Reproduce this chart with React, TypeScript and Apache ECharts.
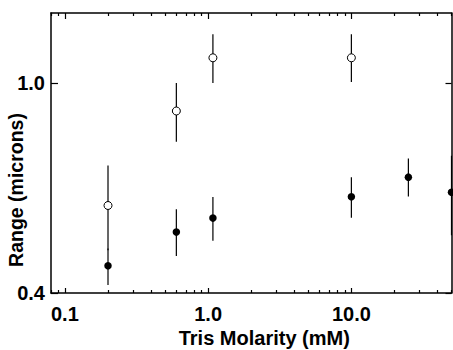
import React, { useEffect, useRef } from "react";
import * as echarts from "echarts";

// Tris molarity (mM) and range (microns)
const openX = [0.2, 0.6, 1.08, 10];
const openY = [0.65, 0.92, 1.072, 1.072];
const openLow = [0.522, 0.832, 1.0, 1.003];
const openHigh = [0.764, 1.0, 1.139, 1.139];

const filledX = [0.2, 0.6, 1.08, 10, 25, 50];
const filledY = [0.478, 0.574, 0.614, 0.675, 0.731, 0.688];
const filledLow = [0.423, 0.506, 0.549, 0.615, 0.676, 0.565];
const filledHigh = [0.527, 0.639, 0.674, 0.731, 0.784, 0.792];

const xMajorTicks = [0.1, 1, 10];
const xMinorTicks = [
  0.08, 0.09, 0.2, 0.3, 0.4, 0.5, 0.6, 0.7, 0.8, 0.9,
  2, 3, 4, 5, 6, 7, 8, 9, 20, 30, 40, 50,
];
const yTicks = [0.4, 1.0];

const FONT = "'Liberation Sans', Arial, Helvetica, sans-serif";

export default function App() {
  const ref = useRef<HTMLDivElement>(null);
  useEffect(() => {
    if (!ref.current) return;
    const chart = echarts.init(ref.current, null, { renderer: "svg" });
    const gridBox = { left: 51, right: 1.5, top: 13, bottom: 57, outerBoundsMode: "none" } as any;
    const axisLine = { show: true, lineStyle: { color: "#000", width: 1.5 } };
    const xBase = { type: "log", logBase: 10, min: 0.08, max: 50, splitLine: { show: false } } as any;
    const labelStyle = { color: "#000", fontFamily: FONT, fontWeight: "bold", fontSize: 20 };
    const makeErr = (xs: number[], lo: number[], hi: number[]) =>
      xs.map((x, i) => [x, lo[i], hi[i]]);
    const renderErr = (params: any, api: any) => {
      const x = api.value(0);
      const p1 = api.coord([x, api.value(1)]);
      const p2 = api.coord([x, api.value(2)]);
      return {
        type: "line",
        shape: { x1: p1[0], y1: p1[1], x2: p2[0], y2: p2[1] },
        style: { stroke: "#000", lineWidth: 1.2 },
      };
    };
    chart.setOption({
      animation: false,
      backgroundColor: "#fff",
      grid: [gridBox, { ...gridBox }],
      xAxis: [
        {
          ...xBase,
          gridIndex: 0,
          position: "bottom",
          axisLine,
          axisTick: { show: true, inside: true, length: 5, customValues: xMajorTicks, lineStyle: { color: "#000", width: 1.2 } },
          axisLabel: {
            ...labelStyle,
            margin: 11,
            customValues: xMajorTicks,
            formatter: (v: number) => Number(v).toFixed(1),
          },
          name: "Tris Molarity (mM)",
          nameLocation: "middle",
          nameGap: 35,
          nameMoveOverlap: false,
          nameTextStyle: { ...labelStyle, fontSize: 20, padding: [0, 0, 0, 26] },
        },
        {
          ...xBase,
          gridIndex: 0,
          position: "top",
          axisLine,
          axisTick: { show: true, inside: true, length: 6, customValues: xMajorTicks, lineStyle: { color: "#000", width: 1.2 } },
          axisLabel: { show: false },
        },
        {
          ...xBase,
          gridIndex: 1,
          position: "bottom",
          axisLine: { show: false },
          axisTick: { show: true, inside: true, length: 3, customValues: xMinorTicks, lineStyle: { color: "#000", width: 1.2 } },
          axisLabel: { show: false },
        },
        {
          ...xBase,
          gridIndex: 1,
          position: "top",
          axisLine: { show: false },
          axisTick: { show: true, inside: true, length: 3, customValues: xMinorTicks, lineStyle: { color: "#000", width: 1.2 } },
          axisLabel: { show: false },
        },
      ],
      yAxis: [
        {
          type: "value",
          gridIndex: 0,
          position: "left",
          min: 0.4,
          max: 1.2,
          splitLine: { show: false },
          axisLine,
          axisTick: { show: true, inside: true, length: 7, customValues: yTicks, lineStyle: { color: "#000", width: 1.2 } },
          axisLabel: {
            ...labelStyle,
            margin: 6,
            customValues: yTicks,
            formatter: (v: number) => Number(v).toFixed(1),
          },
          name: "Range (microns)",
          nameLocation: "middle",
          nameGap: 25,
          nameMoveOverlap: false,
          nameTextStyle: { ...labelStyle, fontSize: 19.5, padding: [0, 74, 0, 0] },
        },
        {
          type: "value",
          gridIndex: 0,
          position: "right",
          min: 0.4,
          max: 1.2,
          splitLine: { show: false },
          axisLine,
          axisTick: { show: true, inside: true, length: 6, customValues: yTicks, lineStyle: { color: "#000", width: 1.2 } },
          axisLabel: { show: false },
        },
        {
          type: "value",
          gridIndex: 1,
          min: 0.4,
          max: 1.2,
          show: false,
        },
      ],
      series: [
        {
          type: "custom",
          xAxisIndex: 0,
          yAxisIndex: 0,
          renderItem: renderErr,
          encode: { x: 0, y: [1, 2] },
          data: makeErr(openX, openLow, openHigh),
          z: 2,
          clip: true,
        },
        {
          type: "custom",
          xAxisIndex: 0,
          yAxisIndex: 0,
          renderItem: renderErr,
          encode: { x: 0, y: [1, 2] },
          data: makeErr(filledX, filledLow, filledHigh),
          z: 2,
          clip: true,
        },
        {
          type: "scatter",
          xAxisIndex: 0,
          yAxisIndex: 0,
          symbol: "circle",
          symbolSize: 8,
          itemStyle: { color: "#fff", borderColor: "#000", borderWidth: 1, opacity: 1 },
          data: openX.map((x, i) => [x, openY[i]]),
          z: 3,
          clip: true,
        },
        {
          type: "scatter",
          xAxisIndex: 0,
          yAxisIndex: 0,
          symbol: "circle",
          symbolSize: 7.5,
          itemStyle: { color: "#000", opacity: 1 },
          data: filledX.map((x, i) => [x, filledY[i]]),
          z: 3,
          clip: true,
        },
      ],
    });
    return () => chart.dispose();
  }, []);
  return (
    <div
      ref={ref}
      style={{ position: "fixed", left: 0, top: 0, width: 453, height: 350, background: "#fff" }}
    />
  );
}
